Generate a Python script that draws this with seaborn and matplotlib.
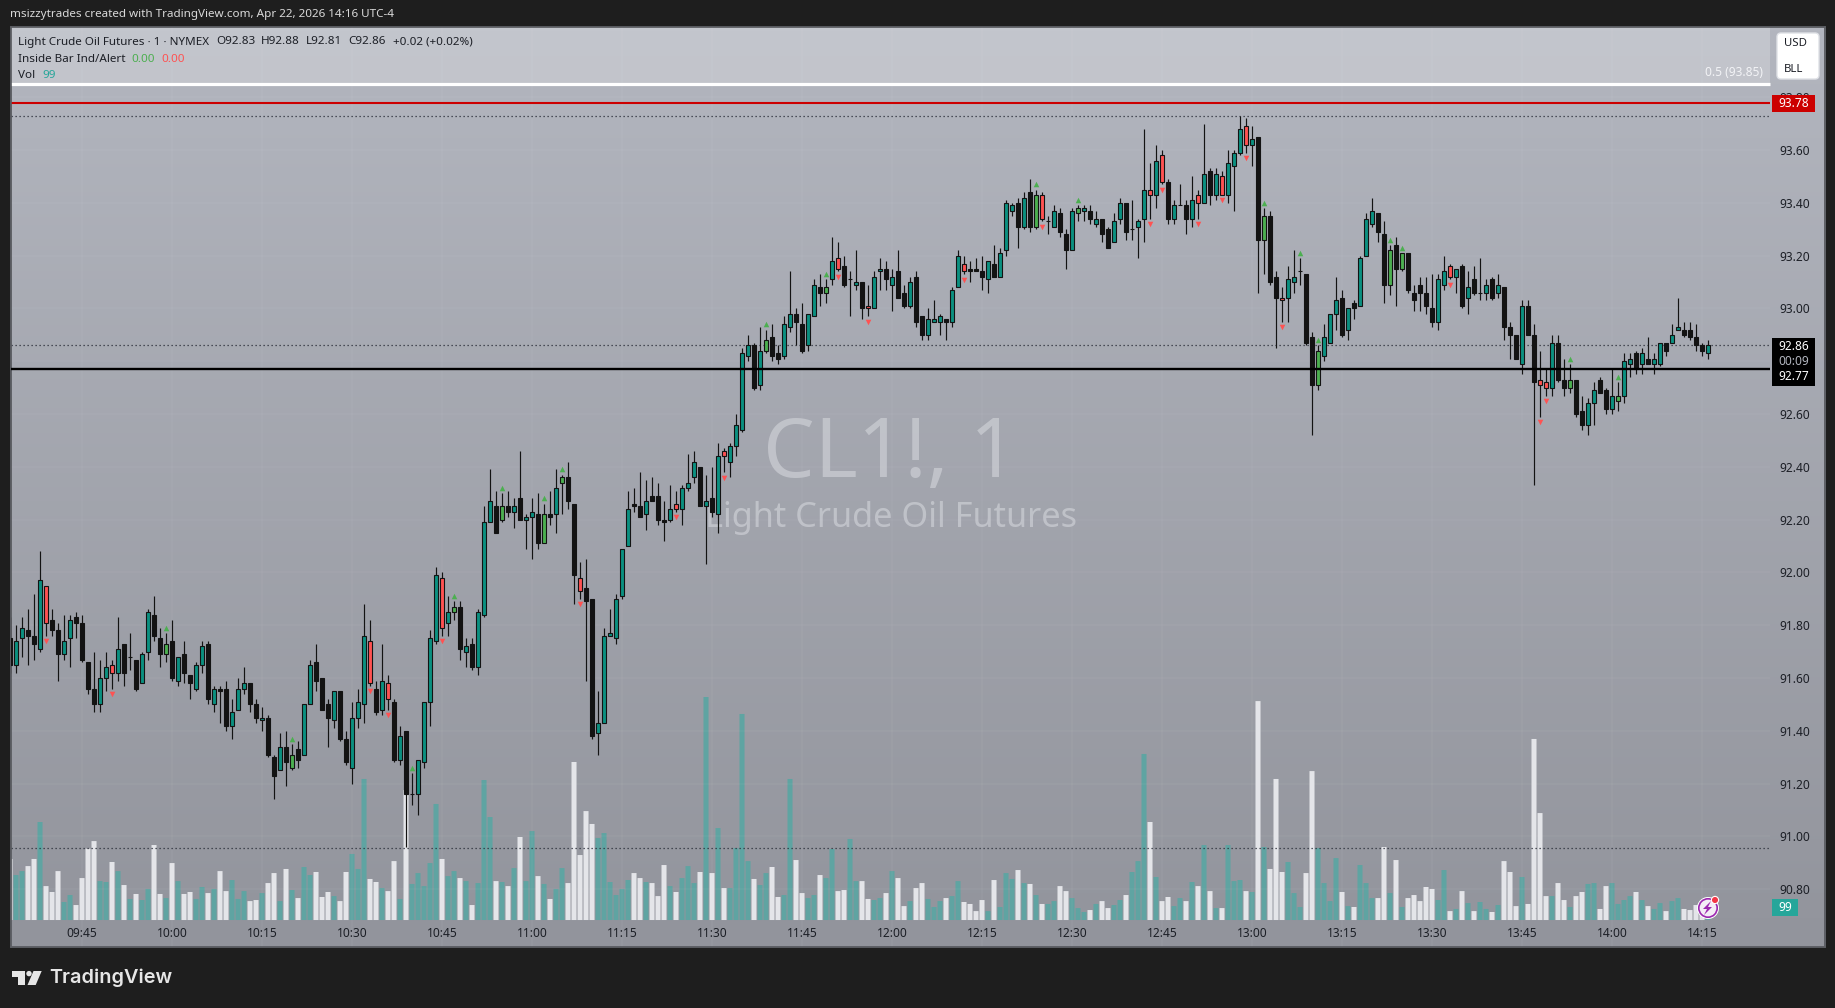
import numpy as np
import pandas as pd
import matplotlib.pyplot as plt
import seaborn as sns
from matplotlib.patches import Rectangle, FancyBboxPatch, Circle, Polygon
from matplotlib.transforms import Affine2D

sns.set_theme(style="white")
plt.rcParams["font.family"] = ["Noto Sans", "DejaVu Sans"]

# one candle per minute, first one at 09:33
first_minute = 9 * 60 + 33

# u = up, d = down, r / g = inside bar alert candles
kinds = ("duuddurddu" "udddduurud" "uduuddgdud" "duududduuu" "dduddudgdu"
         "udddudduuu" "rdurdudguu" "uurugduduu" "udgduduudg" "dugddrdduu"
         "uuuudduddd" "uruuududur" "uuuudugddu" "udduudgurd" "uudruududd"
         "udduuuduur" "ddduduuudu" "dgruuddugu" "dudduuduuu" "rurduuduru"
         "duruuurudg" "ddruugddgu" "uududuuudd" "gdgddddduu" "rududuudud"
         "dduddrrudd" "gdduuddugu" "ududuuduud" "dddu")

highs = [
    91.83, 91.80, 91.83, 91.86, 91.92, 92.08, 91.95, 91.86, 91.81, 91.84,
    91.84, 91.85, 91.84, 91.66, 91.70, 91.67, 91.70, 91.67, 91.83, 91.73,
    91.77, 91.67, 91.70, 91.86, 91.91, 91.79, 91.77, 91.82, 91.68, 91.74,
    91.61, 91.66, 91.74, 91.74, 91.57, 91.57, 91.59, 91.52, 91.60, 91.64,
    91.58, 91.52, 91.49, 91.46, 91.31, 91.39, 91.40, 91.35, 91.36, 91.50,
    91.67, 91.73, 91.60, 91.52, 91.55, 91.55, 91.40, 91.51, 91.56, 91.88,
    91.82, 91.59, 91.73, 91.61, 91.52, 91.42, 91.40, 91.24, 91.29, 91.51,
    91.78, 92.02, 92.00, 91.91, 91.89, 91.89, 91.75, 91.75, 91.86, 92.25,
    92.39, 92.31, 92.30, 92.31, 92.28, 92.46, 92.22, 92.28, 92.30, 92.26,
    92.31, 92.39, 92.37, 92.42, 92.26, 92.04, 92.05, 91.90, 91.55, 91.79,
    91.86, 91.92, 92.09, 92.31, 92.32, 92.38, 92.35, 92.36, 92.34, 92.27,
    92.33, 92.31, 92.33, 92.45, 92.46, 92.40, 92.37, 92.40, 92.49, 92.47,
    92.49, 92.60, 92.85, 92.90, 92.87, 92.93, 92.92, 92.94, 92.86, 92.97,
    93.14, 93.00, 93.02, 92.98, 93.11, 93.13, 93.11, 93.27, 93.25, 93.20,
    93.14, 93.22, 93.10, 93.09, 93.14, 93.19, 93.18, 93.15, 93.22, 93.09,
    93.12, 93.14, 92.97, 93.00, 93.03, 92.98, 92.96, 93.08, 93.22, 93.20,
    93.18, 93.19, 93.20, 93.18, 93.24, 93.23, 93.41, 93.40, 93.42, 93.44,
    93.49, 93.45, 93.44, 93.35, 93.39, 93.38, 93.30, 93.38, 93.39, 93.39,
    93.39, 93.37, 93.34, 93.31, 93.36, 93.42, 93.40, 93.41, 93.34, 93.68,
    93.55, 93.62, 93.60, 93.49, 93.41, 93.47, 93.41, 93.50, 93.45, 93.70,
    93.53, 93.53, 93.52, 93.60, 93.60, 93.73, 93.72, 93.69, 93.65, 93.38,
    93.37, 93.14, 93.08, 93.16, 93.22, 93.19, 93.13, 92.91, 92.86, 92.94,
    92.98, 93.12, 93.07, 93.00, 93.03, 93.20, 93.36, 93.42, 93.36, 93.33,
    93.24, 93.27, 93.21, 93.21, 93.09, 93.12, 93.12, 93.13, 93.13, 93.20,
    93.17, 93.15, 93.17, 93.14, 93.16, 93.19, 93.11, 93.12, 93.13, 93.08,
    92.95, 92.90, 93.03, 93.03, 92.94, 92.84, 92.77, 92.90, 92.90, 92.81,
    92.79, 92.73, 92.67, 92.66, 92.72, 92.74, 92.70, 92.77, 92.72, 92.83,
    92.83, 92.84, 92.85, 92.89, 92.83, 92.87, 92.87, 92.94, 93.04, 92.95,
    92.95, 92.94, 92.87, 92.88,
]

body_tops = [
    91.75, 91.74, 91.79, 91.78, 91.76, 91.97, 91.95, 91.82, 91.78, 91.74,
    91.82, 91.83, 91.81, 91.66, 91.56, 91.60, 91.64, 91.65, 91.71, 91.73,
    91.68, 91.67, 91.69, 91.85, 91.84, 91.75, 91.73, 91.74, 91.68, 91.69,
    91.61, 91.65, 91.72, 91.73, 91.56, 91.56, 91.56, 91.47, 91.56, 91.58,
    91.58, 91.50, 91.45, 91.45, 91.30, 91.34, 91.34, 91.31, 91.33, 91.50,
    91.65, 91.66, 91.60, 91.50, 91.55, 91.55, 91.37, 91.45, 91.51, 91.76,
    91.74, 91.56, 91.59, 91.58, 91.51, 91.38, 91.40, 91.16, 91.29, 91.51,
    91.75, 91.99, 91.98, 91.85, 91.87, 91.87, 91.72, 91.73, 91.85, 92.19,
    92.27, 92.25, 92.25, 92.25, 92.25, 92.28, 92.21, 92.23, 92.22, 92.22,
    92.22, 92.32, 92.36, 92.36, 92.26, 91.98, 91.94, 91.90, 91.43, 91.76,
    91.77, 91.90, 92.09, 92.24, 92.26, 92.25, 92.27, 92.29, 92.29, 92.20,
    92.24, 92.26, 92.32, 92.34, 92.42, 92.40, 92.27, 92.28, 92.44, 92.46,
    92.48, 92.56, 92.83, 92.86, 92.86, 92.84, 92.88, 92.89, 92.83, 92.94,
    92.98, 92.98, 92.94, 92.98, 93.09, 93.08, 93.08, 93.18, 93.19, 93.16,
    93.11, 93.10, 93.10, 93.01, 93.12, 93.15, 93.15, 93.12, 93.14, 93.06,
    93.10, 93.12, 92.97, 92.96, 92.96, 92.97, 92.96, 93.07, 93.20, 93.17,
    93.15, 93.15, 93.14, 93.18, 93.17, 93.21, 93.40, 93.39, 93.40, 93.42,
    93.44, 93.43, 93.43, 93.33, 93.37, 93.36, 93.28, 93.37, 93.38, 93.38,
    93.37, 93.34, 93.34, 93.30, 93.33, 93.40, 93.40, 93.30, 93.33, 93.45,
    93.45, 93.56, 93.58, 93.48, 93.39, 93.39, 93.39, 93.41, 93.43, 93.51,
    93.52, 93.51, 93.50, 93.55, 93.59, 93.68, 93.69, 93.64, 93.65, 93.35,
    93.35, 93.12, 93.04, 93.11, 93.12, 93.14, 93.13, 92.89, 92.84, 92.89,
    92.98, 93.03, 93.04, 93.00, 93.02, 93.19, 93.34, 93.37, 93.36, 93.28,
    93.22, 93.24, 93.21, 93.21, 93.06, 93.09, 93.06, 93.00, 93.11, 93.14,
    93.16, 93.15, 93.16, 93.08, 93.11, 93.06, 93.09, 93.11, 93.09, 93.08,
    92.93, 92.90, 93.01, 93.01, 92.90, 92.73, 92.72, 92.87, 92.87, 92.73,
    92.73, 92.73, 92.61, 92.64, 92.69, 92.73, 92.69, 92.67, 92.67, 92.80,
    92.81, 92.83, 92.83, 92.81, 92.81, 92.87, 92.87, 92.90, 92.93, 92.92,
    92.92, 92.89, 92.86, 92.86,
]

body_bottoms = [
    91.65, 91.65, 91.75, 91.76, 91.73, 91.71, 91.81, 91.78, 91.69, 91.69,
    91.75, 91.81, 91.67, 91.56, 91.50, 91.50, 91.60, 91.62, 91.62, 91.62,
    91.68, 91.56, 91.58, 91.70, 91.76, 91.69, 91.69, 91.60, 91.59, 91.62,
    91.58, 91.56, 91.65, 91.52, 91.50, 91.55, 91.42, 91.42, 91.48, 91.56,
    91.50, 91.45, 91.44, 91.31, 91.23, 91.25, 91.28, 91.26, 91.29, 91.31,
    91.50, 91.59, 91.48, 91.45, 91.44, 91.37, 91.28, 91.26, 91.45, 91.50,
    91.58, 91.47, 91.48, 91.52, 91.29, 91.29, 91.16, 91.16, 91.16, 91.28,
    91.51, 91.74, 91.79, 91.81, 91.85, 91.71, 91.70, 91.64, 91.64, 91.84,
    92.19, 92.15, 92.20, 92.23, 92.23, 92.20, 92.20, 92.21, 92.11, 92.11,
    92.21, 92.22, 92.34, 92.27, 91.99, 91.93, 91.89, 91.38, 91.39, 91.43,
    91.76, 91.75, 91.91, 92.10, 92.25, 92.21, 92.22, 92.27, 92.20, 92.19,
    92.20, 92.24, 92.24, 92.32, 92.36, 92.25, 92.25, 92.23, 92.22, 92.44,
    92.42, 92.48, 92.54, 92.82, 92.70, 92.71, 92.84, 92.82, 92.81, 92.82,
    92.93, 92.95, 92.84, 92.86, 92.97, 93.06, 93.06, 93.11, 93.15, 93.09,
    93.11, 93.09, 93.00, 93.00, 93.00, 93.14, 93.11, 93.09, 93.04, 93.01,
    93.01, 92.95, 92.90, 92.90, 92.95, 92.95, 92.95, 92.95, 93.08, 93.14,
    93.14, 93.14, 93.12, 93.11, 93.12, 93.12, 93.22, 93.37, 93.31, 93.31,
    93.31, 93.31, 93.34, 93.33, 93.31, 93.29, 93.22, 93.22, 93.36, 93.37,
    93.34, 93.32, 93.28, 93.23, 93.25, 93.34, 93.29, 93.30, 93.31, 93.34,
    93.43, 93.43, 93.48, 93.34, 93.34, 93.39, 93.34, 93.34, 93.40, 93.40,
    93.43, 93.43, 93.43, 93.43, 93.54, 93.59, 93.62, 93.62, 93.26, 93.26,
    93.10, 93.04, 93.03, 93.04, 93.10, 93.14, 92.87, 92.71, 92.71, 92.82,
    92.87, 92.98, 92.90, 92.92, 93.00, 93.01, 93.20, 93.32, 93.29, 93.09,
    93.09, 93.15, 93.15, 93.07, 93.03, 93.06, 93.01, 92.95, 92.95, 93.09,
    93.12, 93.12, 93.01, 93.04, 93.06, 93.06, 93.06, 93.04, 93.06, 92.93,
    92.90, 92.81, 92.79, 92.90, 92.72, 92.71, 92.70, 92.70, 92.73, 92.70,
    92.70, 92.60, 92.56, 92.56, 92.64, 92.68, 92.62, 92.62, 92.65, 92.67,
    92.79, 92.77, 92.79, 92.79, 92.79, 92.79, 92.84, 92.87, 92.92, 92.90,
    92.89, 92.86, 92.84, 92.83,
]

lows = [
    91.62, 91.62, 91.68, 91.65, 91.67, 91.70, 91.76, 91.76, 91.59, 91.67,
    91.64, 91.75, 91.66, 91.54, 91.47, 91.47, 91.55, 91.56, 91.59, 91.57,
    91.63, 91.55, 91.58, 91.67, 91.74, 91.64, 91.66, 91.59, 91.57, 91.58,
    91.52, 91.55, 91.62, 91.50, 91.47, 91.43, 91.40, 91.37, 91.48, 91.54,
    91.47, 91.43, 91.40, 91.30, 91.14, 91.25, 91.19, 91.25, 91.26, 91.31,
    91.50, 91.55, 91.48, 91.34, 91.41, 91.36, 91.27, 91.20, 91.41, 91.43,
    91.57, 91.46, 91.46, 91.48, 91.28, 91.27, 90.96, 91.12, 91.08, 91.26,
    91.42, 91.73, 91.76, 91.76, 91.82, 91.67, 91.64, 91.63, 91.61, 91.83,
    92.19, 92.15, 92.19, 92.21, 92.17, 92.20, 92.09, 92.05, 92.09, 92.11,
    92.18, 92.15, 92.22, 92.24, 91.88, 91.90, 91.59, 91.37, 91.31, 91.43,
    91.76, 91.73, 91.90, 92.10, 92.23, 92.21, 92.16, 92.27, 92.18, 92.12,
    92.19, 92.23, 92.18, 92.31, 92.34, 92.25, 92.03, 92.21, 92.15, 92.38,
    92.36, 92.44, 92.53, 92.80, 92.69, 92.69, 92.83, 92.80, 92.79, 92.81,
    92.91, 92.86, 92.83, 92.84, 92.97, 93.01, 93.02, 93.09, 93.14, 93.08,
    92.97, 93.07, 92.96, 92.97, 93.00, 93.07, 93.07, 92.99, 93.04, 93.00,
    93.00, 92.93, 92.88, 92.88, 92.95, 92.90, 92.88, 92.93, 93.08, 93.13,
    93.10, 93.14, 93.07, 93.06, 93.12, 93.12, 93.20, 93.35, 93.23, 93.30,
    93.29, 93.30, 93.33, 93.28, 93.31, 93.27, 93.15, 93.22, 93.33, 93.33,
    93.32, 93.31, 93.25, 93.23, 93.25, 93.32, 93.26, 93.26, 93.19, 93.25,
    93.34, 93.38, 93.47, 93.32, 93.32, 93.39, 93.28, 93.31, 93.34, 93.40,
    93.39, 93.41, 93.43, 93.40, 93.37, 93.58, 93.59, 93.54, 93.06, 93.13,
    93.09, 92.85, 92.95, 92.95, 93.06, 93.09, 92.86, 92.52, 92.69, 92.80,
    92.87, 92.92, 92.89, 92.88, 92.96, 93.01, 93.20, 93.31, 93.25, 93.02,
    93.05, 93.01, 93.14, 93.06, 92.99, 92.99, 92.98, 92.93, 92.92, 93.07,
    93.11, 93.06, 93.00, 92.98, 93.05, 93.03, 93.03, 93.03, 93.04, 92.88,
    92.81, 92.81, 92.75, 92.90, 92.33, 92.59, 92.67, 92.67, 92.72, 92.67,
    92.68, 92.59, 92.54, 92.52, 92.56, 92.68, 92.60, 92.60, 92.61, 92.64,
    92.74, 92.75, 92.75, 92.79, 92.75, 92.78, 92.82, 92.87, 92.92, 92.89,
    92.88, 92.84, 92.82, 92.81,
]

volumes = [
    403, 297, 323, 356, 403, 647, 224, 185, 323, 119,
    165, 99, 277, 471, 521, 257, 251, 383, 323, 231,
    139, 172, 132, 205, 495, 172, 145, 376, 257, 172,
    185, 139, 218, 178, 205, 323, 191, 264, 139, 191,
    125, 132, 178, 244, 310, 125, 337, 198, 145, 350,
    297, 317, 152, 185, 158, 125, 317, 436, 337, 931,
    271, 251, 211, 191, 389, 139, 858, 238, 310, 224,
    376, 766, 403, 290, 323, 277, 257, 99, 244, 924,
    680, 257, 251, 224, 343, 548, 257, 587, 290, 238,
    139, 205, 343, 244, 1043, 429, 719, 634, 541, 574,
    251, 165, 205, 264, 310, 277, 251, 244, 158, 363,
    224, 185, 277, 356, 244, 317, 1472, 310, 607, 211,
    211, 475, 1360, 389, 271, 231, 310, 350, 152, 165,
    931, 396, 178, 145, 165, 297, 277, 469, 191, 198,
    535, 257, 257, 139, 132, 145, 178, 323, 277, 92,
    125, 211, 244, 139, 86, 125, 145, 158, 257, 119,
    106, 59, 132, 59, 264, 86, 310, 271, 330, 244,
    238, 165, 106, 106, 125, 224, 191, 145, 79, 53,
    66, 106, 125, 79, 99, 132, 165, 317, 389, 1096,
    647, 284, 125, 152, 92, 145, 125, 251, 224, 495,
    191, 79, 79, 495, 257, 264, 191, 185, 1445, 482,
    337, 931, 317, 383, 178, 86, 310, 983, 475, 244,
    125, 409, 185, 92, 86, 363, 244, 145, 145, 482,
    178, 396, 86, 145, 165, 125, 218, 205, 132, 330,
    59, 73, 191, 112, 59, 119, 73, 53, 99, 389,
    317, 92, 284, 106, 1195, 706, 158, 158, 244, 132,
    86, 158, 185, 238, 244, 73, 224, 244, 106, 132,
    158, 185, 132, 92, 73, 112, 59, 125, 145, 73,
    66, 99, 66, 99,
]

price_ticks = [90.80, 91.00, 91.20, 91.40, 91.60, 91.80, 92.00, 92.20, 92.40,
               92.60, 92.80, 93.00, 93.20, 93.40, 93.60, 93.80]
time_ticks = ["09:45", "10:00", "10:15", "10:30", "10:45", "11:00", "11:15",
              "11:30", "11:45", "12:00", "12:15", "12:30", "12:45", "13:00",
              "13:15", "13:30", "13:45", "14:00", "14:15"]

fib_level = 93.85
alert_level = 93.78
support_level = 92.77
dotted_levels = [93.73, 92.86, 90.955]

TEAL = "#0b9080"
VOL_TEAL = "#5fa4a2"
VOL_WHITE = "#e4e5e9"
RED = "#ff5252"
GREEN = "#4caf50"
BLACK = "#131313"
INK = "#1c1f26"

W, H = 1835, 1008
BG = "#1e1e1e"


def fx(px):
    return px / W


def fy(py):
    return 1 - py / H


def label(px, py, txt, color=INK, size=8.2, ha="left", weight="normal", **kw):
    return fig.text(fx(px), fy(py), txt, color=color, fontsize=size, ha=ha,
                    va="center", fontweight=weight, **kw)


def box(x0, y0, x1, y1, color):
    fig.add_artist(Rectangle((fx(x0), fy(y1)), (x1 - x0) / W, (y1 - y0) / H,
                             transform=fig.transFigure, facecolor=color,
                             edgecolor="none"))


def disc(px, py, r, **kw):
    fig.add_artist(Circle((px, H - py), r, transform=pixel_tf, **kw))


df = pd.DataFrame({
    "minute": first_minute + np.arange(len(highs)),
    "kind": list(kinds),
    "high": highs,
    "top": body_tops,
    "bottom": body_bottoms,
    "low": lows,
    "volume": volumes,
})
df["side"] = df["kind"].map({"u": "buy", "g": "buy", "d": "sell", "r": "sell"})

fig = plt.figure(figsize=(W / 100, H / 100), dpi=100, facecolor=BG)
pixel_tf = Affine2D().scale(1 / W, 1 / H) + fig.transFigure
ax_vol = fig.add_axes([fx(10.5), fy(947), (1825 - 10.5) / W, (947 - 27) / H])

# pane background
top_rgb = np.array([0xb3, 0xb6, 0xbf]) / 255
bot_rgb = np.array([0x92, 0x94, 0x9c]) / 255
grad = np.linspace(top_rgb, bot_rgb, 256).reshape(256, 1, 3)
ax_vol.imshow(grad, extent=(0, 1, 0, 1), transform=ax_vol.transAxes,
              aspect="auto", zorder=0)

# volume pane on its own scale, zero sits at y=920px
sns.barplot(data=df, x="minute", y="volume", hue="side", native_scale=True,
            palette={"buy": VOL_TEAL, "sell": VOL_WHITE}, dodge=False,
            width=0.84, saturation=1, errorbar=None, legend=False,
            linewidth=0, ax=ax_vol)
for bar in ax_vol.patches:
    bar.set_snap(False)

ax_price = ax_vol.twinx()
ax_price.patch.set_visible(False)

# price scale stops here
pane_end = 866.3
xlim = (573.08, 875.5)
ylim = (90.581, 94.066)

# grid
minor_x = [int(t[:2]) * 60 + int(t[3:]) for t in time_ticks]
ax_price.vlines(minor_x, ylim[0], ylim[1], color="white", alpha=0.035, lw=1.2, zorder=0.5)
ax_price.hlines(price_ticks, xlim[0], pane_end, color="white", alpha=0.035, lw=1.2, zorder=0.5)

# lighter band above the fib line
ax_price.add_patch(Rectangle((xlim[0], fib_level), pane_end - xlim[0], ylim[1] - fib_level,
                             facecolor="white", alpha=0.22, edgecolor="none", zorder=0.6))

# watermark
ax_price.text(0.4845, 0.5 + (487 - 455) / 920, "CL1!, 1", transform=ax_price.transAxes,
              fontsize=59, color="#ccced4", alpha=0.72, ha="center", va="center", zorder=0.7)
ax_price.text(0.4850, 0.5 + (487 - 518) / 920, "Light Crude Oil Futures",
              transform=ax_price.transAxes, fontsize=24.7, color="#ccced4", alpha=0.72,
              ha="center", va="center", zorder=0.7)

# horizontal levels
ax_price.hlines(dotted_levels, xlim[0], pane_end, color="#2a2e39", lw=0.9,
                linestyles=(0, (1, 2.2)), zorder=1.5)
ax_price.hlines(fib_level, xlim[0], pane_end, color="white", lw=2.3, zorder=2)
ax_price.hlines(alert_level, xlim[0], pane_end, color="#cc0000", lw=1.5, zorder=2)
ax_price.hlines(support_level, xlim[0], pane_end, color="black", lw=1.7, zorder=5)

# candles
ax_price.vlines(df["minute"], df["low"], df["high"], color=BLACK, lw=0.85, zorder=3)
body_colors = df["kind"].map({"u": TEAL, "d": BLACK, "r": RED, "g": GREEN})
ax_price.bar(df["minute"], df["top"] - df["bottom"], bottom=df["bottom"], width=0.66,
             color=body_colors, edgecolor=BLACK, linewidth=0.8, zorder=4)

# inside bar alerts
alerts_up = df[df["kind"] == "g"].assign(mark=lambda d: d["high"] + 0.02)
alerts_down = df[df["kind"] == "r"].assign(mark=lambda d: d["low"] - 0.021)
sns.scatterplot(data=alerts_up, x="minute", y="mark", marker="^", s=16, color=GREEN,
                linewidth=0, legend=False, ax=ax_price, zorder=4)
sns.scatterplot(data=alerts_down, x="minute", y="mark", marker="v", s=16, color=RED,
                linewidth=0, legend=False, ax=ax_price, zorder=4)

# axes
ax_vol.set_xlim(*xlim)
ax_vol.set_ylim(-178, 5894)
ax_price.set_ylim(*ylim)
ax_vol.set_xlabel("")
ax_vol.set_ylabel("")
ax_price.set_xlabel("")
ax_price.set_ylabel("")
ax_vol.set_yticks([])
ax_vol.set_xticks(minor_x)
ax_vol.set_xticklabels(time_ticks)
ax_vol.tick_params(axis="x", length=0, pad=-14.5, labelsize=8.6, labelcolor=INK)
ax_price.set_yticks(price_ticks)
ax_price.set_yticklabels([f"{p:.2f}" for p in price_ticks])
ax_price.tick_params(axis="y", length=0, pad=-32.5, labelsize=8.6, labelcolor=INK)
for ax in (ax_vol, ax_price):
    for spine in ax.spines.values():
        spine.set_color("#5c5e63")
        spine.set_linewidth(1.1)

# header and legend
label(10, 15, "msizzytrades created with TradingView.com, Apr 22, 2026 14:16 UTC-4",
      color="#d9d9d9", size=8.4)
label(18, 42, "Light Crude Oil Futures · 1 · NYMEX", size=8.4)
label(216, 42, "O92.83", size=8.4)
label(261, 42, "H92.88", size=8.4)
label(306, 42, "L92.81", size=8.4)
label(348, 42, "C92.86", size=8.4)
label(393, 42, "+0.02 (+0.02%)", size=8.4)
label(18, 59, "Inside Bar Ind/Alert", size=8.4)
label(131, 59, "0.00", color=GREEN, size=8.4)
label(161, 59, "0.00", color=RED, size=8.4)
label(18, 76, "Vol", size=8.4)
label(42, 76, "99", color="#26a69a", size=8.4)

label(1763, 73, "0.5 (93.85)", color="#f2f3f6", size=8.6, ha="right", weight="bold")

# currency box
fig.add_artist(FancyBboxPatch((1777, H - 79), 42, 46,
                              boxstyle="round,pad=0,rounding_size=4",
                              transform=pixel_tf, facecolor="white",
                              edgecolor="#dfe1e6", linewidth=1))
label(1784, 43, "USD", size=8.2)
label(1784, 69, "BLL", size=8.2)

# price tags
box(1772, 95, 1815, 112, "#cc0000")
label(1793.5, 103.5, "93.78", color="white", size=8.6, ha="center", weight="bold")
box(1772, 338, 1815, 386, "#000000")
label(1793.5, 347, "92.86", color="white", size=8.6, ha="center", weight="bold")
label(1793.5, 361, "00:09", color="#b2b5be", size=8.6, ha="center")
label(1793.5, 377, "92.77", color="white", size=8.6, ha="center", weight="bold")
box(1772, 899, 1798, 916, "#26a69a")
label(1785, 907.5, "99", color="white", size=8.6, ha="center", weight="bold")

# alert icon
disc(1708, 908, 11, facecolor="white", edgecolor="none")
disc(1708, 908, 9.2, facecolor="#f4ecf6", edgecolor="#9c27b0", linewidth=1.2)
bolt = [(1711, 901), (1703, 909), (1707, 909), (1704, 915), (1712, 907), (1708, 907)]
fig.add_artist(Polygon([(x, H - y) for x, y in bolt], transform=pixel_tf,
                       facecolor="#9c27b0", edgecolor="none"))
disc(1715, 900, 3.6, facecolor="#f23645", edgecolor="white", linewidth=0.8)

# TradingView logo
logo_t = [(12, 971), (25, 971), (25, 985), (18, 985), (18, 977), (12, 977)]
logo_s = [(33.5, 971), (41.7, 971), (35.7, 985), (27.5, 985)]
for shape in (logo_t, logo_s):
    fig.add_artist(Polygon([(x, H - y) for x, y in shape], transform=pixel_tf,
                           facecolor="#e6e6e6", edgecolor="none"))
disc(29, 973.6, 2.7, facecolor="#e6e6e6", edgecolor="none")
label(49, 977.5, "TradingView", color="#e6e6e6", size=14.3, weight="semibold", family="Inter")

fig.savefig("out.png", dpi=100, facecolor=BG)
